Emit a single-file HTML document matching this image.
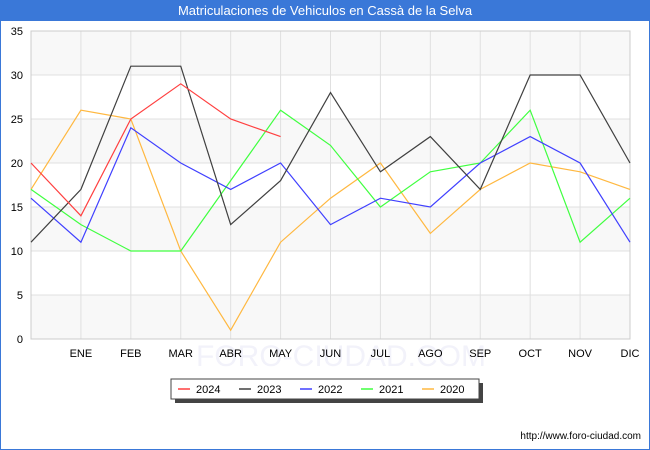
<!DOCTYPE html>
<html><head><meta charset="utf-8"><style>
body{margin:0;background:#fff;font-family:"Liberation Sans","DejaVu Sans",sans-serif}
#wrap{position:relative;width:648px;height:448px;border:1px solid #3a78d8;background:#fff}
#title{height:20px;background:#3a78d8;color:#fff;font-size:13px;text-align:center;line-height:20px}
</style></head><body>
<div id="wrap">
<div id="title">Matriculaciones de Vehiculos en Cassà de la Selva</div>
<svg id="svg" width="648" height="428" style="position:absolute;left:0;top:20px"></svg>
</div>
<script>
const months=["","ENE","FEB","MAR","ABR","MAY","JUN","JUL","AGO","SEP","OCT","NOV","DIC"];
const yTicks=[0,5,10,15,20,25,30,35];
const seriesNames=["2024","2023","2022","2021","2020"];
const seriesColors=["#ff4040","#404040","#4040ff","#40ff40","#ffb840"];
const s2024=[20,14,25,29,25,23];
const s2023=[11,17,31,31,13,18,28,19,23,17,30,30,20];
const s2022=[16,11,24,20,17,20,13,16,15,20,23,20,11];
const s2021=[17,13,10,10,18,26,22,15,19,20,26,11,16];
const s2020=[17,26,25,10,1,11,16,20,12,17,20,19,17];
const allSeries=[s2024,s2023,s2022,s2021,s2020];
const svg=document.getElementById('svg');const NS="http://www.w3.org/2000/svg";
const L=30,R=629,T=10,B=318,maxY=35;
const x=i=>L+(R-L)*i/(months.length-1);
const y=v=>B-(B-T)*v/maxY;
function mk(t,a,p){const e=document.createElementNS(NS,t);for(const k in a)e.setAttribute(k,a[k]);(p||svg).appendChild(e);return e;}
for(let k=0;k<yTicks.length-1;k++){ if((yTicks.length-2-k)%2==0){const r=mk('rect',{x:L,y:y(yTicks[k+1]),width:R-L,height:y(yTicks[k])-y(yTicks[k+1]),fill:'#f8f8f8'});}}
yTicks.forEach(v=>{const l=mk('line',{x1:L,x2:R,y1:y(v),y2:y(v),stroke:'#e0e0e0'});
const t=mk('text',{x:L-8,y:y(v)+4,'text-anchor':'end','font-size':11,fill:'#000'});t.textContent=v;});
const wm=mk('text',{x:340,y:345,'text-anchor':'middle','font-size':30,fill:'#f2f2fa'});wm.textContent="FORO-CIUDAD.COM";
months.forEach((m,i)=>{const l=mk('line',{x1:x(i),x2:x(i),y1:T,y2:B,stroke:'#e0e0e0'});
if(m){const t=mk('text',{x:x(i),y:B+18,'text-anchor':'middle','font-size':11,fill:'#000'});t.textContent=m;}});
mk('rect',{x:L,y:T,width:R-L,height:B-T,fill:'none',stroke:'#cccccc'});
allSeries.slice().reverse().forEach((s,ri)=>{const k=allSeries.length-1-ri;const p=mk('polyline',{points:s.map((v,i)=>x(i)+','+y(v)).join(' '),fill:'none',stroke:seriesColors[k],'stroke-width':1.2});});
const lg=mk('g',{});
mk('rect',{x:174,y:362,width:308,height:20,fill:'#444'},lg);
mk('rect',{x:170,y:358,width:308,height:20,fill:'#fff',stroke:'#444'},lg);
seriesNames.forEach((n,k)=>{const gx=177+k*61;const g=mk('g',{},lg);
mk('line',{x1:gx,x2:gx+12,y1:368,y2:368,stroke:seriesColors[k],'stroke-width':1.5},g);
const t=mk('text',{x:gx+18,y:372,'font-size':11,fill:'#000'},g);t.textContent=n;});
const u=mk('text',{x:640,y:418,'text-anchor':'end','font-size':10,fill:'#000'});u.textContent="http://www.foro-ciudad.com";
</script></body></html>
